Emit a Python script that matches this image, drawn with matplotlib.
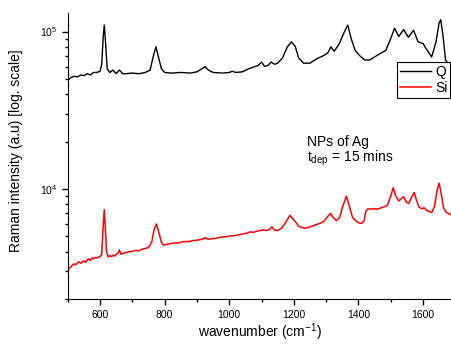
import numpy as np
import matplotlib
matplotlib.use("Agg")
import matplotlib.pyplot as plt
from matplotlib.ticker import LogLocator, NullFormatter, MultipleLocator

plt.rcParams['font.family'] = ['Liberation Sans', 'DejaVu Sans']
plt.rcParams['mathtext.fontset'] = 'custom'
plt.rcParams['mathtext.rm'] = 'Liberation Sans'
plt.rcParams['mathtext.it'] = 'Liberation Sans:italic'

# Q spectrum (black)
wn_q = [500, 510, 520, 530, 540, 550, 560, 570, 580, 590, 600, 605, 610, 613, 617,
        622, 630, 640, 650, 660, 670, 680, 700, 720, 740, 755, 765, 773, 780, 790,
        800, 820, 850, 880, 900, 915, 925, 935, 950, 980, 1000, 1010, 1020, 1040,
        1060, 1080, 1090, 1100, 1110, 1120, 1130, 1140, 1150, 1165, 1180, 1193,
        1205, 1215, 1230, 1250, 1270, 1290, 1305, 1315, 1325, 1340, 1355, 1367,
        1378, 1390, 1405, 1420, 1435, 1450, 1470, 1485, 1500, 1512, 1525, 1540,
        1555, 1571, 1585, 1600, 1615, 1627, 1640, 1650, 1655, 1662, 1670, 1680, 1690]
int_q = [4.9e4, 5.1e4, 5.2e4, 5.15e4, 5.3e4, 5.25e4, 5.4e4, 5.3e4, 5.5e4, 5.5e4,
         5.6e4, 6.2e4, 9.5e4, 1.1e5, 8.5e4, 5.8e4, 5.5e4, 5.7e4, 5.4e4, 5.7e4,
         5.4e4, 5.4e4, 5.45e4, 5.4e4, 5.5e4, 5.7e4, 7.0e4, 8.0e4, 7.0e4, 5.8e4,
         5.5e4, 5.45e4, 5.5e4, 5.45e4, 5.55e4, 5.8e4, 6.0e4, 5.7e4, 5.5e4, 5.45e4,
         5.5e4, 5.6e4, 5.5e4, 5.55e4, 5.8e4, 6.0e4, 6.1e4, 6.4e4, 6.0e4, 6.1e4,
         6.4e4, 6.2e4, 6.3e4, 6.8e4, 8.0e4, 8.6e4, 8.0e4, 6.8e4, 6.3e4, 6.3e4,
         6.7e4, 7.0e4, 7.3e4, 8.0e4, 7.5e4, 8.3e4, 9.8e4, 1.1e5, 9.0e4, 7.6e4,
         7.0e4, 6.6e4, 6.6e4, 6.9e4, 7.3e4, 7.6e4, 9.0e4, 1.05e5, 9.3e4, 1.03e5,
         9.2e4, 1.02e5, 8.6e4, 8.4e4, 7.5e4, 6.9e4, 8.5e4, 1.13e5, 1.19e5, 9.5e4,
         6.6e4, 6.2e4, 6.0e4]

# Si spectrum (red)
wn_si = [500, 505, 510, 515, 520, 525, 530, 535, 540, 545, 550, 555, 560, 565, 570,
         575, 580, 585, 590, 595, 600, 605, 610, 613, 616, 620, 625, 630, 635, 640,
         645, 650, 655, 660, 665, 670, 680, 690, 700, 710, 720, 730, 740, 750, 760,
         768, 775, 782, 790, 797, 805, 815, 825, 835, 845, 855, 865, 875, 885, 895,
         905, 915, 925, 935, 945, 955, 965, 975, 985, 995, 1005, 1015, 1025, 1035,
         1045, 1055, 1065, 1075, 1085, 1095, 1105, 1115, 1125, 1132, 1140, 1150,
         1160, 1170, 1180, 1188, 1196, 1205, 1215, 1225, 1235, 1245, 1255, 1265,
         1275, 1285, 1295, 1305, 1314, 1322, 1332, 1342, 1352, 1363, 1372, 1382,
         1392, 1402, 1410, 1418, 1423, 1430, 1440, 1450, 1460, 1470, 1480, 1490,
         1500, 1508, 1516, 1525, 1533, 1540, 1548, 1556, 1565, 1573, 1580, 1588,
         1596, 1604, 1612, 1620, 1628, 1636, 1644, 1650, 1656, 1664, 1672, 1680, 1690]
int_si = [3000, 3150, 3200, 3300, 3350, 3300, 3400, 3450, 3380, 3450, 3500, 3420,
          3550, 3600, 3520, 3650, 3600, 3680, 3650, 3700, 3720, 3850, 6000, 7400,
          5800, 4000, 3700, 3780, 3720, 3800, 3750, 3850, 3900, 4100, 3850, 3900,
          3950, 4000, 4020, 4080, 4050, 4150, 4200, 4250, 4600, 5600, 6000, 5300,
          4600, 4400, 4450, 4500, 4520, 4560, 4550, 4620, 4650, 4630, 4700, 4720,
          4750, 4800, 4900, 4800, 4830, 4850, 4900, 4950, 4980, 5000, 5050, 5050,
          5100, 5150, 5200, 5250, 5350, 5300, 5400, 5450, 5500, 5450, 5550, 5750,
          5500, 5450, 5600, 5900, 6400, 6800, 6500, 6200, 5800, 5700, 5650, 5700,
          5800, 5900, 6000, 6100, 6300, 6700, 7000, 6600, 6300, 6600, 7800, 9000,
          7800, 6600, 6300, 6100, 6050, 6300, 7200, 7500, 7450, 7500, 7450, 7600,
          7700, 7900, 9000, 10200, 9000, 8400, 8700, 8950, 8300, 8100, 8900, 9500,
          8500, 7700, 7500, 7600, 7300, 7200, 7100, 7800, 9800, 10900, 9500, 7600,
          7100, 7000, 6800]

fig = plt.figure(figsize=(4.52, 3.45), dpi=100)
ax = fig.add_axes([0.150, 0.133, 0.850, 0.829])

ax.plot(wn_q, int_q, color='black', lw=1.0, label='Q')
ax.plot(wn_si, int_si, color='red', lw=1.1, label='Si')

ax.set_yscale('log')
ax.set_xlim(500, 1690)
ax.set_ylim(2000, 1.31e5)

ax.spines['top'].set_visible(False)
ax.spines['right'].set_visible(False)

ax.xaxis.set_major_locator(MultipleLocator(200))
ax.xaxis.set_minor_locator(MultipleLocator(100))
ax.yaxis.set_major_locator(LogLocator(base=10))
ax.yaxis.set_minor_locator(LogLocator(base=10, subs=np.arange(2, 10)))
ax.yaxis.set_minor_formatter(NullFormatter())

ax.tick_params(which='major', direction='out', length=4, width=1, labelsize=7.5)
ax.tick_params(which='minor', direction='out', length=2.5, width=1)

ax.set_xlabel('wavenumber (cm$^{-1}$)', fontsize=10)
ax.set_ylabel('Raman intensity (a.u) [log. scale]', fontsize=10)
ax.xaxis.set_label_coords(0.5, -0.078)
ax.yaxis.set_label_coords(-0.117, 0.52)

leg = ax.legend(loc='upper right', bbox_to_anchor=(0.995, 0.829), borderaxespad=0,
                fancybox=False, edgecolor='black', framealpha=1, fontsize=10,
                handlelength=2.2, handletextpad=0.3, borderpad=0.2, labelspacing=0.15)
leg.get_frame().set_linewidth(0.8)

ax.text(0.622, 0.549, 'NPs of Ag', transform=ax.transAxes, fontsize=10, va='center')
ax.text(0.622, 0.493, 't$_{\\mathrm{dep}}$ = 15 mins', transform=ax.transAxes,
        fontsize=10, va='center')

fig.savefig('out.png', dpi=100)
